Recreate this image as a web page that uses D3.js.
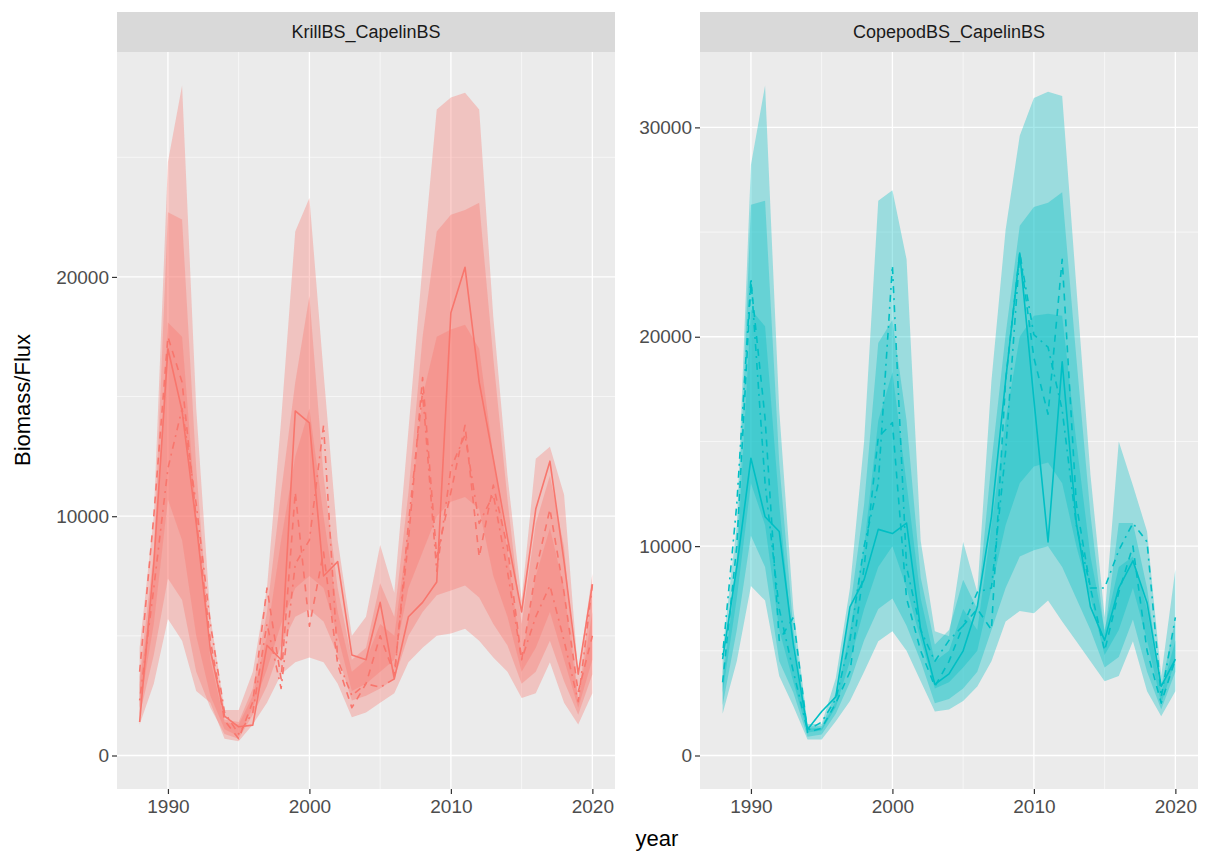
<!DOCTYPE html>
<html>
<head>
<meta charset="utf-8">
<script src="https://cdn.jsdelivr.net/npm/d3@7"></script>
<style>
  body { margin: 0; background: #fff; }
  text { font-family: Arial, "Liberation Sans", sans-serif; }
</style>
</head>
<body>
<div id="chart"></div>
<script>
// Données
const years = [1988, 1989, 1990, 1991, 1992, 1993, 1994, 1995, 1996, 1997, 1998, 1999, 2000, 2001, 2002, 2003, 2004,
  2005, 2006, 2007, 2008, 2009, 2010, 2011, 2012, 2013, 2014, 2015, 2016, 2017, 2018, 2019, 2020];
const facets = ["KrillBS_CapelinBS", "CopepodBS_CapelinBS"];
const colours = ["#F8766D", "#00BFC4"];
const xTicks = [1990, 2000, 2010, 2020];
const yTicksKrill = [0, 10000, 20000];
const yTicksCopepod = [0, 10000, 20000, 30000];

// KrillBS_CapelinBS
const krillOuterLo = [1300, 3000, 5700, 4800, 2700, 2200, 700, 600, 1300, 2200, 3400, 3900, 4100, 3900, 3000, 1600, 1800, 2200, 2600, 3900, 4500, 5000, 5100, 5300, 4800, 4100, 3500, 2400, 2600, 3900, 2200, 1300, 2600];
const krillOuterHi = [4500, 10000, 24800, 28000, 14500, 5800, 1900, 1900, 3500, 7000, 14000, 21900, 23300, 16000, 9000, 5000, 5800, 8800, 6800, 13600, 20500, 27000, 27500, 27700, 27000, 18300, 11700, 6500, 12400, 12900, 10900, 3400, 7600];
const krillMidLo = [1700, 4200, 7400, 6500, 3500, 2000, 900, 700, 1700, 2900, 4600, 5800, 6100, 5600, 4200, 2300, 2500, 2800, 3200, 5000, 6000, 6700, 6900, 7100, 6600, 5500, 4600, 3000, 3500, 4800, 3100, 1700, 3400];
const krillMidHi = [3300, 8500, 22700, 22400, 12000, 4500, 1500, 1400, 2800, 6000, 11000, 15600, 19200, 11700, 7000, 4000, 4500, 7200, 5800, 11000, 17500, 21900, 22600, 22800, 23100, 16600, 10700, 5500, 9700, 11700, 8700, 2300, 7100];
const krillInnerLo = [2000, 5500, 10700, 9000, 5000, 2500, 1100, 800, 2000, 3600, 5500, 7000, 7500, 7000, 5000, 2700, 3000, 3500, 4000, 7000, 8500, 10000, 10600, 10800, 10300, 7500, 5800, 3500, 4500, 6000, 4000, 2000, 4000];
const krillInnerHi = [3000, 7500, 18100, 17500, 10000, 4000, 1400, 1300, 2500, 5000, 9000, 12500, 14500, 10000, 6000, 3500, 4000, 5500, 5000, 9500, 15000, 17500, 17800, 18000, 17000, 12500, 8500, 4000, 7500, 9500, 7000, 2200, 6000];
const krillSolid = [1400, 8000, 17000, 14400, 9700, 4400, 1650, 1200, 1270, 4600, 4000, 14400, 13900, 7500, 8100, 4200, 4000, 6400, 3200, 5800, 6400, 7250, 18500, 20400, 15600, 12400, 9100, 6000, 10300, 12300, 8100, 3400, 7150];
const krillDashed = [3500, 10000, 17500, 15600, 9900, 4800, 1470, 700, 2250, 7000, 3200, 11000, 5400, 8500, 3800, 2000, 3000, 5000, 3400, 9000, 15800, 8300, 11000, 13800, 8300, 11300, 8700, 4000, 7700, 10300, 6800, 2650, 5000];
const krillDotdash = [2300, 7000, 12000, 14500, 10500, 5500, 1800, 900, 1800, 5500, 2800, 8000, 9000, 13800, 4000, 2500, 3000, 2850, 3200, 9700, 15200, 7700, 12000, 13400, 9700, 10900, 7700, 4000, 5800, 7100, 4800, 2250, 7150];

// CopepodBS_CapelinBS
const copOuterLo = [2000, 4500, 8100, 7400, 3800, 2350, 770, 770, 1630, 2600, 4000, 5460, 5940, 5000, 3550, 2100, 2200, 2600, 3300, 4500, 6400, 6900, 6800, 7400, 6400, 5460, 4500, 3550, 3800, 5460, 3070, 1870, 3070];
const copOuterHi = [5000, 11000, 28200, 32000, 16500, 7000, 1500, 1500, 3700, 8000, 15000, 26500, 27000, 23700, 10250, 5940, 5700, 10200, 7800, 17900, 25100, 29600, 31400, 31700, 31500, 22400, 13400, 6600, 15000, 12900, 10700, 3800, 8900];
const copMidLo = [2400, 6000, 10500, 9000, 4500, 3000, 900, 1000, 2000, 3500, 5500, 7000, 7500, 6200, 4500, 2500, 2700, 3200, 4000, 6000, 8000, 9500, 9800, 10000, 9000, 7500, 6000, 4200, 4700, 6500, 4000, 2200, 4000];
const copMidHi = [4000, 9500, 26300, 26500, 14000, 6000, 1400, 1400, 3000, 7000, 12000, 19700, 20800, 16000, 8500, 5300, 6000, 8400, 7000, 14000, 20100, 25300, 26200, 26400, 26900, 19000, 11500, 5800, 11100, 11100, 8000, 3300, 6500];
const copInnerLo = [3000, 7500, 13000, 11000, 6000, 3500, 1100, 1200, 2300, 4500, 7000, 9000, 10000, 8000, 5500, 3200, 3500, 4200, 5000, 8000, 11000, 13000, 13800, 14000, 13000, 10000, 7500, 4800, 6000, 8000, 5500, 2500, 4500];
const copInnerHi = [3500, 9000, 21300, 20500, 12000, 5000, 1300, 1300, 2600, 6000, 10000, 16000, 18300, 13000, 7500, 4500, 5000, 7000, 6000, 11000, 16000, 20000, 21000, 21100, 21000, 15000, 9500, 6000, 9000, 9500, 7000, 3000, 5500];
const copSolid = [4600, 9000, 14200, 11400, 10700, 5300, 1240, 2100, 2800, 7100, 8400, 10800, 10600, 11100, 6000, 3400, 3900, 5000, 7100, 11400, 17900, 24000, 17000, 10200, 18800, 11100, 7100, 5500, 8000, 9300, 7300, 3300, 4600];
const copDashed = [3500, 10000, 22600, 16100, 5500, 6600, 1100, 1300, 2500, 4000, 9000, 15200, 15900, 7500, 5000, 3300, 4500, 6200, 7000, 6000, 17900, 24000, 19000, 16300, 23700, 12000, 8000, 5000, 7800, 10000, 5000, 2500, 4600];
const copDotdash = [4800, 12000, 22800, 13000, 7000, 4000, 1200, 1600, 2700, 5500, 10000, 13000, 23400, 9000, 6000, 4500, 5500, 6200, 7800, 8000, 14500, 24000, 20100, 19500, 16500, 11000, 8000, 8000, 9800, 11100, 10200, 2800, 6600];

const panels = [
  { name: facets[0], colour: colours[0], yTicks: yTicksKrill,
    bands: [[krillOuterLo, krillOuterHi], [krillMidLo, krillMidHi], [krillInnerLo, krillInnerHi]],
    lines: [krillSolid, krillDashed, krillDotdash] },
  { name: facets[1], colour: colours[1], yTicks: yTicksCopepod,
    bands: [[copOuterLo, copOuterHi], [copMidLo, copMidHi], [copInnerLo, copInnerHi]],
    lines: [copSolid, copDashed, copDotdash] }
];

// Dimensions
const width = 1211;
const height = 858;
const stripTop = 12;
const plotTop = 52;
const plotBottom = 789;
const panelX = [[117, 615], [700, 1198]];
const dashes = [null, "7,6", "2,5,7,5"];

const svg = d3.create("svg")
    .attr("viewBox", [0, 0, width, height])
    .attr("width", width)
    .attr("height", height);

svg.append("rect").attr("width", width).attr("height", height).attr("fill", "white");

// Échelle horizontale commune (expansion 5 %)
const [xMin, xMax] = d3.extent(years);
const xPad = (xMax - xMin) * 0.05;

panels.forEach((p, i) => {
  const [left, right] = panelX[i];
  const x = d3.scaleLinear([xMin - xPad, xMax + xPad], [left, right]);

  // Échelle verticale libre, 0 inclus
  const yMaxData = d3.max(p.bands.concat([p.lines]).flat(2));
  const yPad = yMaxData * 0.05;
  const y = d3.scaleLinear([-yPad, yMaxData + yPad], [plotBottom, plotTop]);

  const g = svg.append("g");

  g.append("rect")
      .attr("x", left).attr("y", plotTop)
      .attr("width", right - left).attr("height", plotBottom - plotTop)
      .attr("fill", "#EBEBEB");

  // Bandeau
  g.append("rect")
      .attr("x", left).attr("y", stripTop)
      .attr("width", right - left).attr("height", plotTop - stripTop)
      .attr("fill", "#D9D9D9");
  g.append("text")
      .attr("x", (left + right) / 2).attr("y", (stripTop + plotTop) / 2)
      .attr("dy", "0.35em")
      .attr("text-anchor", "middle")
      .attr("font-size", 18)
      .attr("fill", "#1A1A1A")
      .text(p.name);

  // Grille
  const d1 = y.domain()[1];
  const minorY = p.yTicks.map(v => v + 5000).filter(v => v < d1);
  const minorX = xTicks.slice(0, -1).map(v => v + 5);
  const grid = g.append("g").attr("stroke", "white");
  grid.selectAll(".my").data(minorY).join("line")
      .attr("x1", left).attr("x2", right)
      .attr("y1", d => y(d)).attr("y2", d => y(d))
      .attr("stroke-width", 0.6);
  grid.selectAll(".mx").data(minorX).join("line")
      .attr("x1", d => x(d)).attr("x2", d => x(d))
      .attr("y1", plotTop).attr("y2", plotBottom)
      .attr("stroke-width", 0.6);
  grid.selectAll(".gy").data(p.yTicks).join("line")
      .attr("x1", left).attr("x2", right)
      .attr("y1", d => y(d)).attr("y2", d => y(d))
      .attr("stroke-width", 1.3);
  grid.selectAll(".gx").data(xTicks).join("line")
      .attr("x1", d => x(d)).attr("x2", d => x(d))
      .attr("y1", plotTop).attr("y2", plotBottom)
      .attr("stroke-width", 1.3);

  // Rubans
  const area = d3.area()
      .x((d, j) => x(years[j]))
      .y0(d => y(d[0]))
      .y1(d => y(d[1]));
  g.append("g")
      .selectAll("path")
      .data(p.bands)
      .join("path")
        .attr("fill", p.colour)
        .attr("fill-opacity", 0.34)
        .attr("d", ([lo, hi]) => area(d3.zip(lo, hi)));

  // Lignes
  const line = d3.line()
      .x((d, j) => x(years[j]))
      .y(d => y(d));
  g.append("g")
      .attr("fill", "none")
      .attr("stroke", p.colour)
      .attr("stroke-width", 1.6)
      .attr("stroke-linejoin", "round")
      .selectAll("path")
      .data(p.lines)
      .join("path")
        .attr("stroke-dasharray", (d, j) => dashes[j])
        .attr("d", line);

  // Axes
  const yAxis = g.append("g")
      .attr("transform", `translate(${left},0)`)
      .call(d3.axisLeft(y).tickValues(p.yTicks).tickSize(5).tickPadding(3).tickFormat(d3.format("d")));
  const xAxis = g.append("g")
      .attr("transform", `translate(0,${plotBottom})`)
      .call(d3.axisBottom(x).tickValues(xTicks).tickSize(5).tickPadding(6).tickFormat(d3.format("d")));
  [yAxis, xAxis].forEach(a => {
    a.select(".domain").remove();
    a.selectAll(".tick line").attr("stroke", "#333333").attr("stroke-width", 1.2);
    a.selectAll(".tick text").attr("fill", "#4D4D4D").attr("font-size", 19)
        .attr("font-family", "Arial, 'Liberation Sans', sans-serif");
  });
});

// Titres des axes
svg.append("text")
    .attr("x", 657).attr("y", 846)
    .attr("text-anchor", "middle")
    .attr("font-size", 22)
    .attr("fill", "black")
    .text("year");
svg.append("text")
    .attr("transform", "translate(30,400) rotate(-90)")
    .attr("text-anchor", "middle")
    .attr("font-size", 22)
    .attr("fill", "black")
    .text("Biomass/Flux");

document.getElementById("chart").appendChild(svg.node());
</script>
</body>
</html>
